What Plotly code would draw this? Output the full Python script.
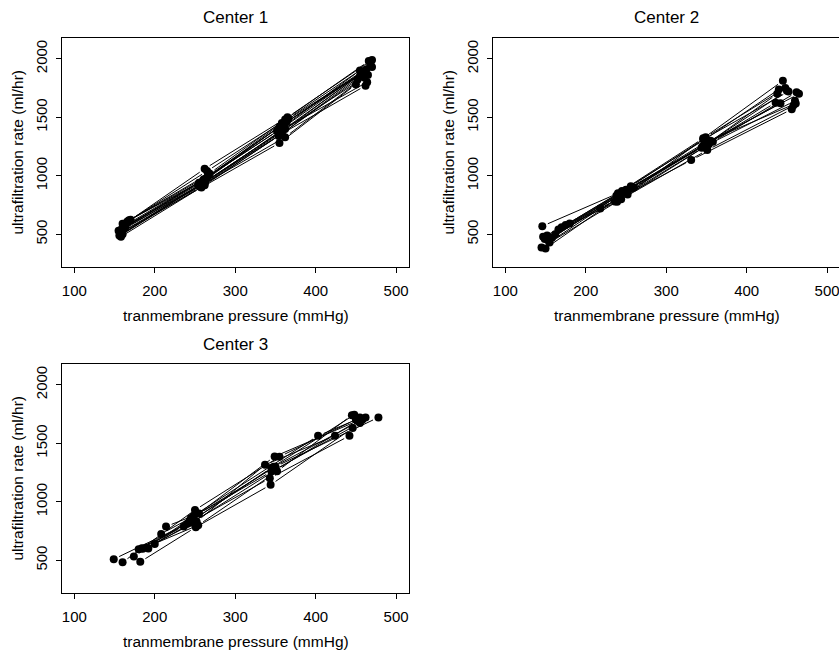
import math
import plotly.graph_objects as go

# ---------------- data ----------------
centers = ["Center 1", "Center 2", "Center 3"]

# Center 1: (tmp, ufr) per dialyzer, 4 pressure levels each
c1_tmp = [
    [158, 262, 358, 462], [160, 258, 362, 465], [155, 260, 355, 458], [162, 264, 360, 468],
    [165, 262, 365, 470], [158, 255, 352, 455], [168, 268, 362, 466], [160, 260, 358, 462],
    [157, 258, 355, 450], [163, 262, 360, 464], [159, 256, 362, 460], [166, 266, 364, 470],
    [161, 259, 357, 456], [164, 261, 361, 463], [156, 257, 354, 452], [170, 265, 366, 468],
    [162, 263, 359, 461], [158, 254, 356, 455],
]
c1_ufr = [
    [480, 920, 1360, 1770], [500, 930, 1400, 1860], [530, 950, 1420, 1880], [560, 980, 1440, 1940],
    [600, 1060, 1500, 1990], [540, 940, 1380, 1900], [620, 1020, 1480, 1980], [590, 960, 1450, 1900],
    [510, 900, 1280, 1780], [570, 940, 1400, 1800], [520, 910, 1330, 1840], [610, 1000, 1460, 1930],
    [550, 920, 1370, 1870], [580, 970, 1420, 1910], [490, 905, 1340, 1820], [625, 1040, 1490, 1960],
    [545, 950, 1390, 1890], [500, 915, 1350, 1850],
]

c2_tmp = [
    [146, 240, 346, 445], [147, 239, 358, 462], [145, 218, 331, 456], [153, 255, 350, 461],
    [166, 245, 348, 440], [180, 250, 352, 450], [150, 242, 345, 436], [152, 260, 355, 465],
    [158, 248, 347, 442], [170, 252, 349, 448], [155, 244, 351, 458], [162, 238, 344, 438],
    [175, 256, 346, 452], [149, 236, 353, 460],
]
c2_ufr = [
    [570, 850, 1320, 1812], [479, 778, 1291, 1713], [388, 721, 1134, 1568], [450, 892, 1290, 1618],
    [542, 870, 1310, 1738], [593, 880, 1280, 1726], [380, 820, 1250, 1624], [490, 900, 1300, 1700],
    [470, 860, 1260, 1620], [560, 840, 1330, 1750], [430, 800, 1220, 1600], [500, 830, 1240, 1700],
    [580, 910, 1310, 1720], [460, 780, 1270, 1640],
]

c3_tmp = [
    [149, 240, 345, 448], [160, 250, 355, 455], [174, 245, 350, 478], [182, 251, 344, 446],
    [184, 236, 343, 442], [192, 244, 349, 462], [208, 255, 345, 455], [214, 248, 403, 450],
    [190, 252, 337, 424], [200, 246, 350, 452], [185, 254, 352, 445], [180, 242, 348, 458],
]
c3_ufr = [
    [510, 810, 1290, 1744], [484, 930, 1385, 1720], [532, 860, 1300, 1721], [487, 783, 1145, 1630],
    [604, 789, 1202, 1564], [601, 846, 1387, 1721], [726, 900, 1259, 1673], [789, 880, 1564, 1700],
    [610, 830, 1316, 1564], [640, 820, 1270, 1690], [600, 800, 1260, 1740], [595, 820, 1300, 1700],
]

x_ticks = [100, 200, 300, 400, 500]
y_ticks = [500, 1000, 1500, 2000]
x_title = "tranmembrane pressure (mmHg)"
y_title = "ultrafiltration rate (ml/hr)"

# ---------------- layout geometry ----------------
W, H = 839, 651
XR = [84.7, 516]
YR = [221, 2177]
panels = [
    dict(x0=62, x1=409, y0=38, y1=267),
    dict(x0=493, x1=839, y0=38, y1=267),
    dict(x0=62, x1=409, y0=364, y1=593),
]
datasets = [(c1_tmp, c1_ufr), (c2_tmp, c2_ufr), (c3_tmp, c3_ufr)]

fig = go.Figure()
GAP = 6.0  # px gap between line ends and points (R type="b")

for i, (p, (tmps, ufrs)) in enumerate(zip(panels, datasets)):
    sx = 347.0 / (XR[1] - XR[0])
    sy = (p["y1"] - p["y0"]) / (YR[1] - YR[0])
    lx, ly = [], []
    for xs, ys in zip(tmps, ufrs):
        for k in range(len(xs) - 1):
            dxp = (xs[k + 1] - xs[k]) * sx
            dyp = (ys[k + 1] - ys[k]) * sy
            L = math.hypot(dxp, dyp)
            if L <= 2 * GAP:
                continue
            f = GAP / L
            ddx = xs[k + 1] - xs[k]
            ddy = ys[k + 1] - ys[k]
            lx += [xs[k] + f * ddx, xs[k + 1] - f * ddx, None]
            ly += [ys[k] + f * ddy, ys[k + 1] - f * ddy, None]
    ax = "" if i == 0 else str(i + 1)
    fig.add_trace(go.Scatter(x=lx, y=ly, mode="lines", line=dict(color="black", width=1),
                             xaxis="x" + ax, yaxis="y" + ax, hoverinfo="skip", showlegend=False))
    px = [v for xs in tmps for v in xs]
    py = [v for ys in ufrs for v in ys]
    fig.add_trace(go.Scatter(x=px, y=py, mode="markers", marker=dict(color="black", size=8),
                             xaxis="x" + ax, yaxis="y" + ax, showlegend=False))

font_family = "Liberation Sans, Arial, sans-serif"
layout = dict(
    width=W, height=H, margin=dict(l=0, r=0, t=0, b=0),
    paper_bgcolor="white", plot_bgcolor="white",
    font=dict(family=font_family, color="black", size=15),
    showlegend=False,
)
annotations = []
for i, p in enumerate(panels):
    ax = "" if i == 0 else str(i + 1)
    xd = [p["x0"] / W, min(p["x1"] / W, 1.0)]
    yd = [1 - p["y1"] / H, 1 - p["y0"] / H]
    xr = XR if i != 1 else [XR[0], XR[0] + (p["x1"] - p["x0"]) * (XR[1] - XR[0]) / 347.0]
    layout["xaxis" + ax] = dict(
        domain=xd, range=xr, anchor="y" + ax, tickvals=x_ticks, ticks="outside", ticklen=5,
        tickcolor="black", showline=True, linecolor="black", linewidth=1, mirror=True,
        showgrid=False, zeroline=False, tickfont=dict(size=15), ticklabelstandoff=5,
        ticklabeloverflow="allow",
    )
    layout["yaxis" + ax] = dict(
        domain=yd, range=YR, anchor="x" + ax, tickvals=y_ticks, ticks="outside", ticklen=5,
        tickcolor="black", showline=True, linecolor="black", linewidth=1, mirror=(i != 1),
        showgrid=False, zeroline=False, tickangle=-90, tickfont=dict(size=15), ticklabelstandoff=3,
    )
    cx = (p["x0"] + p["x0"] + 347) / 2
    annotations.append(dict(text=centers[i], x=cx / W, y=1 - (p["y0"] - 20) / H, xref="paper",
                            yref="paper", showarrow=False, font=dict(size=17),
                            xanchor="center", yanchor="middle"))
    annotations.append(dict(text=x_title, x=cx / W, y=1 - (p["y1"] + 48) / H, xref="paper",
                            yref="paper", showarrow=False, font=dict(size=15.5),
                            xanchor="center", yanchor="middle"))
    annotations.append(dict(text=y_title, x=(p["x0"] - 45) / W, y=1 - ((p["y0"] + p["y1"]) / 2) / H,
                            xref="paper", yref="paper", showarrow=False, textangle=-90,
                            font=dict(size=15.5), xanchor="center", yanchor="middle"))
layout["annotations"] = annotations
fig.update_layout(**layout)
fig.write_html("out.html")
